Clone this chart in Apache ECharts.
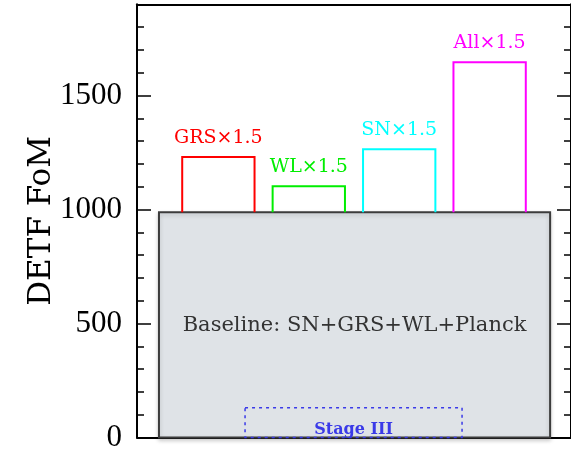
<!DOCTYPE html>
<html>
<head>
<meta charset="utf-8">
<script src="https://cdn.jsdelivr.net/npm/echarts@6/dist/echarts.min.js"></script>
<style>
html,body{margin:0;padding:0;background:#fff;}
#chart{width:571px;height:453px;}
</style>
</head>
<body>
<div id="chart"></div>
<script>
// ---- data ----
const categories = ['GRS×1.5', 'WL×1.5', 'SN×1.5', 'All×1.5'];
const upgradedFoM = [1230, 1102, 1264, 1646];
const upgradeColors = ['#ff0000', '#00ee00', '#00ffff', '#ff00ff'];
const baselineFoM = 988;
const baselineLabel = 'Baseline: SN+GRS+WL+Planck';
const stageIIIFoM = 130;
const stageIIILabel = 'Stage III';
const yTickValues = [0, 500, 1000, 1500];
const yAxisTitle = 'DETF FoM';

const chart = echarts.init(document.getElementById('chart'), null, {renderer: 'canvas'});

const textFont = '"DejaVu Serif", "Liberation Serif", serif';
const serifFont = '"Liberation Serif", "DejaVu Serif", serif';

const BAR_HALF = 0.4;
const BASE_CENTER = 2.506, BASE_HALF = 2.163;
const STAGE_CENTER = 2.495, STAGE_HALF = 1.2;

const option = {
  animation: false,
  backgroundColor: '#ffffff',
  grid: {left: 137, right: -1, top: 4.3, bottom: 14.5, containLabel: false},
  xAxis: [
    {type: 'value', min: 0.1, max: 4.9, position: 'bottom',
     axisLine: {show: true, onZero: false, lineStyle: {color: '#000', width: 2}},
     axisTick: {show: false}, axisLabel: {show: false}, splitLine: {show: false}},
    {type: 'value', min: 0.1, max: 4.9, position: 'top',
     axisLine: {show: true, onZero: false, lineStyle: {color: '#000', width: 2}},
     axisTick: {show: false}, axisLabel: {show: false}, splitLine: {show: false}}
  ],
  yAxis: [
    {type: 'value', min: 0, max: 1900, interval: 500, position: 'left',
     name: yAxisTitle, nameLocation: 'middle', nameGap: 80, nameRotate: 90, nameMoveOverlap: false,
     nameTextStyle: {fontFamily: textFont, fontSize: 31, color: '#000'},
     axisLine: {show: true, onZero: false, lineStyle: {color: '#000', width: 2}},
     axisTick: {show: true, inside: true, length: 14, customValues: yTickValues, lineStyle: {color: '#000', width: 1.5}},
     axisLabel: {show: true, margin: 15, customValues: yTickValues, fontFamily: serifFont, fontSize: 31, color: '#000',
                 formatter: function (v) { return String(v); }},
     splitLine: {show: false}},
    {type: 'value', min: 0, max: 1900, interval: 100, position: 'left',
     axisLine: {show: false}, axisLabel: {show: false}, splitLine: {show: false},
     axisTick: {show: true, inside: true, length: 7, lineStyle: {color: '#000', width: 1.5}}},
    {type: 'value', min: 0, max: 1900, interval: 500, position: 'right',
     axisLine: {show: true, onZero: false, lineStyle: {color: '#000', width: 2}},
     axisTick: {show: true, inside: true, length: 14, customValues: yTickValues, lineStyle: {color: '#000', width: 1.5}},
     axisLabel: {show: false}, splitLine: {show: false}},
    {type: 'value', min: 0, max: 1900, interval: 100, position: 'right',
     axisLine: {show: false}, axisLabel: {show: false}, splitLine: {show: false},
     axisTick: {show: true, inside: true, length: 7, lineStyle: {color: '#000', width: 1.5}}}
  ],
  series: [
    {
      type: 'custom', xAxisIndex: 0, yAxisIndex: 0, z: 2,
      data: [[BASE_CENTER, baselineFoM]],
      renderItem: function (params, api) {
        const c = api.value(0), v = api.value(1);
        const tl = api.coord([c - BASE_HALF, v]);
        const br = api.coord([c + BASE_HALF, 0]);
        const mid = api.coord([c, v / 2]);
        return {type: 'group', children: [
          {type: 'rect', shape: {x: tl[0], y: tl[1], width: br[0] - tl[0], height: br[1] - tl[1]},
           style: {fill: '#dfe3e7', stroke: '#3c3c3c', lineWidth: 2,
                   shadowColor: 'rgba(0,0,0,0.18)', shadowBlur: 4, shadowOffsetY: 2}},
          {type: 'text', x: mid[0], y: mid[1] + 1,
           style: {text: baselineLabel, fill: '#333333', font: '21px ' + textFont,
                   align: 'center', verticalAlign: 'middle'}}
        ]};
      }
    },
    {
      type: 'custom', xAxisIndex: 0, yAxisIndex: 0, z: 3,
      data: [[STAGE_CENTER, stageIIIFoM]],
      renderItem: function (params, api) {
        const c = api.value(0), v = api.value(1);
        const tl = api.coord([c - STAGE_HALF, v]);
        const br = api.coord([c + STAGE_HALF, 0]);
        const mid = api.coord([c, v / 2]);
        return {type: 'group', children: [
          {type: 'rect', shape: {x: tl[0], y: tl[1], width: br[0] - tl[0], height: br[1] - tl[1]},
           style: {fill: 'none', stroke: '#3a3ae8', lineWidth: 1.5, lineDash: [3, 4]}},
          {type: 'text', x: mid[0], y: mid[1] + 7,
           style: {text: stageIIILabel, fill: '#3a3ae8', font: 'bold 16px ' + textFont,
                   align: 'center', verticalAlign: 'middle'}}
        ]};
      }
    },
    {
      type: 'custom', xAxisIndex: 0, yAxisIndex: 0, z: 4,
      data: categories.map(function (c, i) { return [i + 1, upgradedFoM[i], baselineFoM, i]; }),
      renderItem: function (params, api) {
        const x = api.value(0), v = api.value(1), b = api.value(2), idx = api.value(3);
        const color = upgradeColors[idx];
        const p1 = api.coord([x - BAR_HALF, b]);
        const p2 = api.coord([x - BAR_HALF, v]);
        const p3 = api.coord([x + BAR_HALF, v]);
        const p4 = api.coord([x + BAR_HALF, b]);
        const top = api.coord([x, v]);
        return {type: 'group', children: [
          {type: 'polyline', shape: {points: [p1, p2, p3, p4]},
           style: {fill: 'none', stroke: color, lineWidth: 2}},
          {type: 'text', x: top[0], y: top[1] - 19,
           style: {text: categories[idx], fill: color, font: '19px ' + textFont,
                   align: 'center', verticalAlign: 'middle'}}
        ]};
      }
    }
  ]
};
chart.setOption(option);
</script>
</body>
</html>
